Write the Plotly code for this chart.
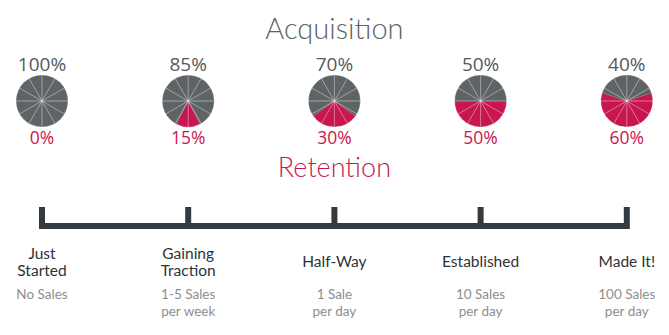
import plotly.graph_objects as go

# ---- data ----
stages = [0, 1, 2, 3, 4]
acquisition = [100, 85, 70, 50, 40]
retention = [0, 15, 30, 50, 60]
stage_titles = ["Just<br>Started", "Gaining<br>Traction", "Half-Way", "Established", "Made It!"]
stage_subtitles = ["No Sales", "1-5 Sales<br>per week", "1 Sale<br>per day", "10 Sales<br>per day", "100 Sales<br>per day"]

W, H = 669, 335
GRAY = "#5e6366"
CRIMSON = "#c8174f"
DARK = "#343a3e"

x0_px, step_px = 42, 146.2  # stage 0 pixel and spacing
x_range = [-x0_px / step_px, (W - x0_px) / step_px]

fig = go.Figure()

pie_cy, pie_r = 101, 26
for s, a, r in zip(stages, acquisition, retention):
    cx = x0_px + s * step_px
    dom = dict(x=[(cx - pie_r) / W, (cx + pie_r) / W],
               y=[(H - pie_cy - pie_r) / H, (H - pie_cy + pie_r) / H])
    # retention slice centred on 6 o'clock (rotation measured clockwise from 12)
    fig.add_trace(go.Pie(values=[r, a], sort=False, direction="clockwise",
                         rotation=180 - r * 1.8,
                         marker=dict(colors=[CRIMSON, GRAY], line=dict(width=0)),
                         textinfo="none", hoverinfo="skip", showlegend=False,
                         domain=dom))
    fig.add_trace(go.Pie(values=[1] * 12, sort=False, direction="clockwise", rotation=0,
                         marker=dict(colors=["rgba(0,0,0,0)"] * 12,
                                     line=dict(width=1, color="rgba(255,255,255,0.22)")),
                         textinfo="none", hoverinfo="skip", showlegend=False,
                         domain=dom))

# bracket
bx, by = [], []
bx += [stages[0], stages[0], stages[-1], stages[-1]]
by += [207, 226, 226, 207]
for s in stages[1:-1]:
    bx += [None, s, s]
    by += [None, 207, 226]
fig.add_trace(go.Scatter(x=bx, y=by, mode="lines", line=dict(color=DARK, width=6),
                         hoverinfo="skip", showlegend=False))

# titles
mid = (stages[0] + stages[-1]) / 2
fig.add_trace(go.Scatter(x=[mid], y=[32], mode="text", text=["Acquisition"],
                         textfont=dict(family="Lato", size=29, color="#5e6366", weight=300),
                         hoverinfo="skip", showlegend=False))
fig.add_trace(go.Scatter(x=[mid], y=[170], mode="text", text=["Retention"],
                         textfont=dict(family="Lato", size=27, color=CRIMSON, weight=300),
                         hoverinfo="skip", showlegend=False))

# percentage labels
fig.add_trace(go.Scatter(x=stages, y=[66] * 5, mode="text", text=[f"{v}%" for v in acquisition],
                         textfont=dict(family="Open Sans", size=19, color="#55595c", weight=500),
                         hoverinfo="skip", showlegend=False))
fig.add_trace(go.Scatter(x=stages, y=[140] * 5, mode="text", text=[f"{v}%" for v in retention],
                         textfont=dict(family="Open Sans", size=17.5, color=CRIMSON, weight=500),
                         hoverinfo="skip", showlegend=False))


def add_lines(texts, first_y, center_y, gap, font):
    xs, ys, ts = [], [], []
    for s, t in zip(stages, texts):
        lines = t.split("<br>")
        n = len(lines)
        base = center_y - (n - 1) * gap / 2 if center_y is not None else first_y
        for i, ln in enumerate(lines):
            xs.append(s)
            ys.append(base + i * gap)
            ts.append(ln)
    fig.add_trace(go.Scatter(x=xs, y=ys, mode="text", text=ts, textfont=font,
                             hoverinfo="skip", showlegend=False))


add_lines(stage_titles, None, 263.5, 16.5, dict(family="Lato", size=15.5, color="#2e3336"))
add_lines(stage_subtitles, 296, None, 16.5, dict(family="Lato", size=13.5, color="#8e8e8e"))

fig.update_layout(
    width=W, height=H, margin=dict(l=0, r=0, t=0, b=0),
    paper_bgcolor="white", plot_bgcolor="white",
    xaxis=dict(range=x_range, visible=False, fixedrange=True),
    yaxis=dict(range=[H, 0], visible=False, fixedrange=True),
)

fig.write_html("out.html")
